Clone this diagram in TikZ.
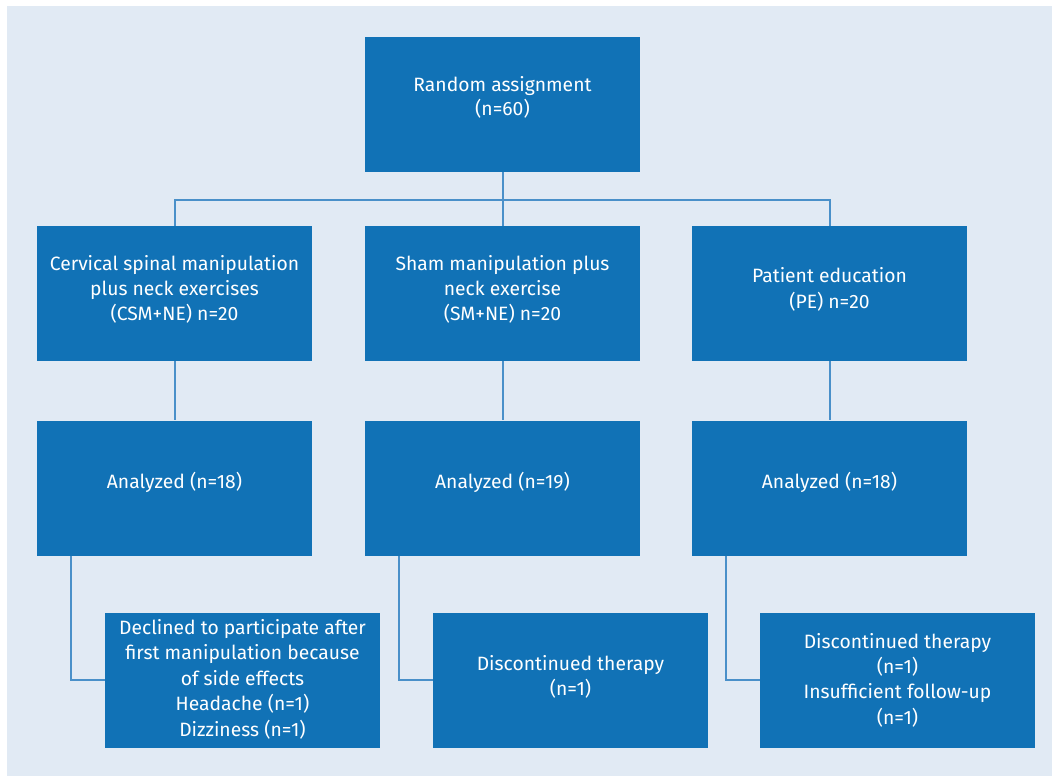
\documentclass[tikz,border=0pt]{standalone}
\usepackage{fontspec}
\setmainfont{Fira Sans}
\definecolor{boxblue}{HTML}{1172B6}
\definecolor{bgblue}{HTML}{E1EAF4}
\definecolor{lineblue}{HTML}{4A90C9}
\begin{document}
\begin{tikzpicture}[x=1pt,y=-1pt,
  box/.style={fill=boxblue,draw=none,minimum width=275pt,minimum height=135pt,inner sep=0pt},
  txt/.style={text=white,align=center,inner sep=0pt,yshift=4pt,font=\fontsize{19.3}{25.3}\selectfont},
  conn/.style={draw=lineblue,line width=2pt}]
\fill[white] (0,0) rectangle (1052,776);
\fill[bgblue] (7,6) rectangle (1052,776);
\node[box,label={[txt,yshift=3.5pt,font=\fontsize{19.3}{24}\selectfont]center:{Random assignment\\(n=60)}}] (top) at (502.5,104.5) {};
\node[box,label={[txt]center:{Cervical spinal manipulation\\plus neck exercises\\(CSM+NE) n=20}}] (g1) at (174.5,293.5) {};
\node[box,label={[txt]center:{Sham manipulation plus\\neck exercise\\(SM+NE) n=20}}] (g2) at (502.5,293.5) {};
\node[box,label={[txt]center:{Patient education\\(PE) n=20}}] (g3) at (829.5,293.5) {};
\node[box,label={[txt,yshift=2pt]center:{Analyzed (n=18)}}] (a1) at (174.5,488) {};
\node[box,label={[txt,yshift=2pt]center:{Analyzed (n=19)}}] (a2) at (502.5,488) {};
\node[box,label={[txt,yshift=2pt]center:{Analyzed (n=18)}}] (a3) at (829.5,488) {};
\node[box,label={[txt,yshift=-3pt,font=\fontsize{19.3}{25.5}\selectfont]center:{Declined to participate after\\first manipulation because\\of side effects\\Headache (n=1)\\Dizziness (n=1)}}] (d1) at (242.5,680) {};
\node[box,label={[txt,yshift=-1pt]center:{Discontinued therapy\\(n=1)}}] (d2) at (570.5,680) {};
\node[box,label={[txt,yshift=-4pt]center:{Discontinued therapy\\(n=1)\\Insufficient follow-up\\(n=1)}}] (d3) at (897.5,680) {};
\coordinate (split) at (502.5,200);
\draw[conn] (top.south) -- (split);
\draw[conn] (g1.north) |- (split) -| (g3.north);
\draw[conn] (split) -- (g2.north);
\draw[conn] (g1.south) -- (a1.north);
\draw[conn] (g2.south) -- (a2.north);
\draw[conn] (g3.south) -- (a3.north);
\draw[conn] ([xshift=34pt]a1.south west) |- (d1.west);
\draw[conn] ([xshift=34pt]a2.south west) |- (d2.west);
\draw[conn] ([xshift=34pt]a3.south west) |- (d3.west);
\end{tikzpicture}
\end{document}
